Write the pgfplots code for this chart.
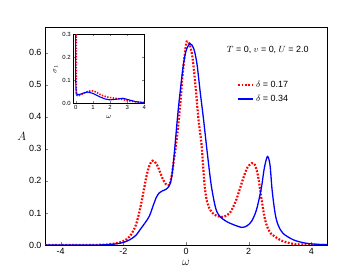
\documentclass[border=0pt]{standalone}
\usepackage{pgfplots}
\pgfplotsset{compat=1.18}
\usepackage{fontspec}
\setmainfont{Liberation Sans}
\begin{document}
\begin{tikzpicture}
\useasboundingbox (0,0) rectangle (363bp,273bp);
\begin{axis}[
  at={(45bp,28bp)}, anchor=south west,
  scale only axis, width=282bp, height=218bp,
  xmin=-4.5, xmax=4.5, ymin=0, ymax=0.68,
  xtick={-4,-2,0,2,4}, ytick={0,0.1,0.2,0.3,0.4,0.5,0.6},
  tick align=inside, xtick pos=bottom, ytick pos=left,
  major tick length=3bp,
  /pgf/number format/assume math mode=true,
  yticklabel style={/pgf/number format/fixed,/pgf/number format/fixed zerofill,/pgf/number format/precision=1},
  tick label style={font=\fontsize{9}{10}\selectfont},
  xlabel={$\omega$}, ylabel={$A$},
  label style={font=\fontsize{13}{14}\selectfont},
  xlabel style={at={(axis description cs:0.5,-0.082)}, anchor=center},
  ylabel style={at={(axis description cs:-0.082,0.5)}, anchor=center, rotate=-90},
  axis line style={line width=0.6pt},
  legend style={draw=none, fill=none, at={(0.67,0.77)}, anchor=north west, font=\fontsize{9}{10}\selectfont, row sep=2pt},
  legend cell align=left,
  legend image code/.code={\draw[#1] (0cm,0cm) -- (0.52cm,0cm);},
]
\addplot[red, line width=2.2pt, dash pattern=on 1.8pt off 1.6pt, smooth] coordinates {
(-4.5,0) (-3,0.0) (-2.5,0.002) (-2.2,0.006) (-2.0,0.012) (-1.8,0.026) (-1.6,0.062)
(-1.45,0.12) (-1.35,0.17) (-1.25,0.22) (-1.15,0.252) (-1.07,0.263) (-1.0,0.26)
(-0.9,0.245) (-0.8,0.22) (-0.7,0.198) (-0.6,0.186) (-0.52,0.19) (-0.45,0.22)
(-0.38,0.27) (-0.32,0.31) (-0.2,0.42) (-0.1,0.54) (0.0,0.625) (0.04,0.635)
(0.1,0.63) (0.2,0.59) (0.3,0.5) (0.4,0.39) (0.5,0.31) (0.58,0.2) (0.66,0.14)
(0.77,0.11) (0.9,0.095) (1.05,0.089) (1.2,0.088) (1.4,0.1) (1.6,0.14) (1.8,0.2)
(1.95,0.24) (2.1,0.255) (2.2,0.25) (2.3,0.215) (2.4,0.15) (2.5,0.09) (2.58,0.06)
(2.7,0.037) (3.0,0.016) (3.3,0.006) (3.6,0.002) (4.5,0)
};
\addlegendentry{$\delta$ = 0.17}
\addplot[blue, line width=1.3pt, smooth] coordinates {
(-4.5,0) (-3,0) (-2.5,0.001) (-2.2,0.004) (-2.0,0.008) (-1.8,0.016) (-1.6,0.03)
(-1.45,0.05) (-1.3,0.07) (-1.17,0.09) (-1.05,0.122) (-0.95,0.148) (-0.85,0.163)
(-0.75,0.169) (-0.65,0.173) (-0.55,0.182) (-0.48,0.2) (-0.42,0.24) (-0.36,0.3)
(-0.25,0.42) (-0.1,0.55) (0.0,0.605) (0.13,0.628) (0.25,0.612) (0.35,0.565)
(0.45,0.48) (0.55,0.4) (0.63,0.33) (0.7,0.27) (0.8,0.19) (0.9,0.135) (0.98,0.105)
(1.1,0.087) (1.3,0.073) (1.5,0.064) (1.78,0.055) (1.95,0.06) (2.1,0.075)
(2.25,0.11) (2.4,0.175) (2.5,0.24) (2.6,0.276) (2.68,0.25) (2.75,0.17)
(2.85,0.095) (2.95,0.06) (3.1,0.036) (3.43,0.016) (3.8,0.006) (4.2,0.002) (4.5,0.001)
};
\addlegendentry{$\delta$ = 0.34}
\node[font=\fontsize{9}{10}\selectfont, anchor=center] at (rel axis cs:0.79,0.895) {$T$ = 0, $v$ = 0, $U$ = 2.0};
\end{axis}
\begin{axis}[
  at={(73.3bp,169.7bp)}, anchor=south west,
  scale only axis, width=71bp, height=69bp,
  xmin=-0.15, xmax=4, ymin=0, ymax=0.3,
  xtick={0,1,2,3,4}, ytick={0,0.1,0.2,0.3},
  tick align=inside, major tick length=2bp,
  /pgf/number format/assume math mode=true,
  yticklabel style={/pgf/number format/fixed,/pgf/number format/fixed zerofill,/pgf/number format/precision=1},
  tick label style={font=\fontsize{6}{7}\selectfont},
  xticklabel style={yshift=1bp},
  yticklabel style={xshift=1bp},
  xlabel={$\omega$}, ylabel={$\sigma_1$},
  label style={font=\fontsize{7}{8}\selectfont},
  xlabel style={at={(axis description cs:0.5,-0.2)}, anchor=center},
  ylabel style={at={(axis description cs:-0.25,0.5)}, anchor=center},
  axis line style={line width=0.6pt},
  clip=true,
]
\addplot[red, line width=1.6pt, dash pattern=on 1.4pt off 1.4pt, smooth] coordinates {
(0.02,0.4) (0.03,0.1) (0.05,0.036) (0.2,0.034) (0.5,0.045) (0.9,0.055) (1.2,0.048)
(1.5,0.035) (2.0,0.025) (2.5,0.02) (3.0,0.012) (3.5,0.006) (4,0.003)
};
\addplot[blue, line width=1.1pt] coordinates {
(-0.02,0.4) (-0.01,0.1) (0.02,0.04) (0.2,0.038) (0.5,0.046) (0.7,0.049) (1.0,0.043)
(1.4,0.028) (1.7,0.019) (2.0,0.015) (2.4,0.018) (2.75,0.022) (3.1,0.015) (3.5,0.007) (4,0.003)
};
\end{axis}
\end{tikzpicture}
\end{document}
